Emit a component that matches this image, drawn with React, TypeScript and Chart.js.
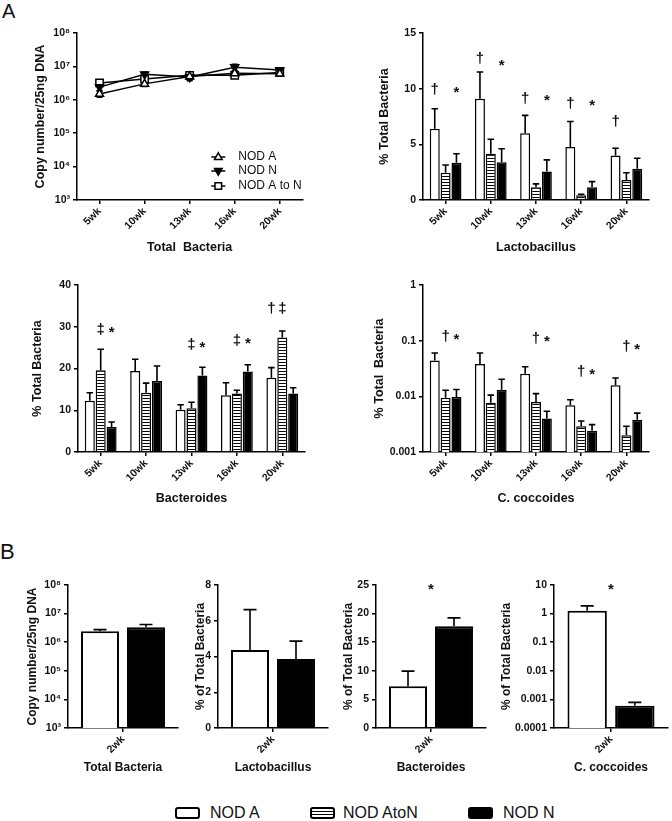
import React, { useEffect, useRef } from 'react';
import { Chart, registerables } from 'chart.js';

Chart.register(...registerables);

const FONT = "'Liberation Sans', Arial, Helvetica, sans-serif";

// ---------------- data ----------------
const weeks = ['5wk', '10wk', '13wk', '16wk', '20wk'];
const weekB = ['2wk'];

const totalTicks = [1e3, 1e4, 1e5, 1e6, 1e7, 1e8];
const totalTickLabels = ['10³', '10⁴', '10⁵', '10⁶', '10⁷', '10⁸'];
const cocTicksA = [0.001, 0.01, 0.1, 1];
const cocTickLabelsA = ['0.001', '0.01', '0.1', '1'];
const cocTicksB = [0.0001, 0.001, 0.01, 0.1, 1, 10];
const cocTickLabelsB = ['0.0001', '0.001', '0.01', '0.1', '1', '10'];

// A - total bacteria (copy number / 25ng DNA)
const totalNodA = [1.5e6, 3.0e6, 5.0e6, 6.2e6, 6.0e6];
const totalNodAErr = [0.3e6, 0.5e6, 1.3e6, 1.0e6, 0.6e6];
const totalNodN = [2.4e6, 5.8e6, 4.8e6, 9.5e6, 7.8e6];
const totalNodNErr = [0.5e6, 1.0e6, 0.8e6, 2.0e6, 1.0e6];
const totalAtoN = [3.2e6, 4.2e6, 5.4e6, 5.4e6, 6.6e6];
const totalAtoNErr = [0.6e6, 0.8e6, 0.8e6, 1.0e6, 0.8e6];

// A - Lactobacillus (% total bacteria)
const lactoNodA = [6.4, 9.1, 6.0, 4.75, 4.0];
const lactoNodAErr = [1.8, 2.4, 1.6, 2.3, 0.65];
const lactoAtoN = [2.45, 4.15, 1.15, 0.42, 1.8];
const lactoAtoNErr = [0.7, 1.3, 0.3, 0.1, 0.65];
const lactoNodN = [3.35, 3.4, 2.55, 1.15, 2.8];
const lactoNodNErr = [0.8, 1.2, 1.05, 0.5, 0.95];

// A - Bacteroides
const bactNodA = [12.3, 19.4, 10.1, 13.6, 17.8];
const bactNodAErr = [1.9, 2.8, 1.2, 3.0, 2.4];
const bactAtoN = [19.6, 14.2, 10.5, 14.0, 27.4];
const bactAtoNErr = [5.0, 2.3, 1.4, 0.8, 1.6];
const bactNodN = [6.0, 17.0, 18.3, 19.3, 14.0];
const bactNodNErr = [1.2, 3.6, 2.0, 1.6, 1.4];

// A - C. coccoides
const cocNodA = [0.044, 0.038, 0.0255, 0.0069, 0.0158];
const cocNodAErr = [0.016, 0.022, 0.0085, 0.0018, 0.0056];
const cocAtoN = [0.0094, 0.0077, 0.0079, 0.0029, 0.002];
const cocAtoNErr = [0.0035, 0.0028, 0.0033, 0.0007, 0.0009];
const cocNodN = [0.0097, 0.0131, 0.004, 0.0024, 0.0038];
const cocNodNErr = [0.0036, 0.0072, 0.0014, 0.0007, 0.0012];

// B - 2wk
const bTotalNodA = [2.4e6];
const bTotalNodAErr = [0.35e6];
const bTotalNodN = [3.3e6];
const bTotalNodNErr = [0.85e6];
const bLactoNodA = [4.37];
const bLactoNodAErr = [2.25];
const bLactoNodN = [3.86];
const bLactoNodNErr = [1.0];
const bBactNodA = [7.3];
const bBactNodAErr = [2.65];
const bBactNodN = [17.8];
const bBactNodNErr = [1.45];
const bCocNodA = [1.27];
const bCocNodAErr = [0.6];
const bCocNodN = [0.0006];
const bCocNodNErr = [0.00019];

// significance marks: category, bar index (0 NOD A, 1 AtoN, 2 NOD N), value, symbol
const lactoMarks = [
  { cat: 0, bar: 0, value: 9.9, text: '†' }, { cat: 0, bar: 2, value: 9.9, text: '*' },
  { cat: 1, bar: 0, value: 12.7, text: '†' }, { cat: 1, bar: 2, value: 12.3, text: '*' },
  { cat: 2, bar: 0, value: 9.1, text: '†' }, { cat: 2, bar: 2, value: 9.2, text: '*' },
  { cat: 3, bar: 0, value: 8.6, text: '†' }, { cat: 3, bar: 2, value: 8.7, text: '*' },
  { cat: 4, bar: 0, value: 7.0, text: '†' },
];
const bactMarks = [
  { cat: 0, bar: 1, value: 29.2, text: '‡' }, { cat: 0, bar: 2, value: 29.2, text: '*' },
  { cat: 2, bar: 1, value: 25.6, text: '‡' }, { cat: 2, bar: 2, value: 25.6, text: '*' },
  { cat: 3, bar: 1, value: 26.6, text: '‡' }, { cat: 3, bar: 2, value: 26.6, text: '*' },
  { cat: 4, bar: 0, value: 34.2, text: '†' }, { cat: 4, bar: 1, value: 34.2, text: '‡' },
];
const cocMarks = [
  { cat: 0, bar: 1, value: 0.117, text: '†' }, { cat: 0, bar: 2, value: 0.117, text: '*' },
  { cat: 2, bar: 1, value: 0.11, text: '†' }, { cat: 2, bar: 2, value: 0.11, text: '*' },
  { cat: 3, bar: 1, value: 0.0275, text: '†' }, { cat: 3, bar: 2, value: 0.0275, text: '*' },
  { cat: 4, bar: 1, value: 0.078, text: '†' }, { cat: 4, bar: 2, value: 0.078, text: '*' },
];
const bBactMarks = [{ cat: 0, bar: 0.5, value: 24.6, text: '*' }];
const bCocMarks = [{ cat: 0, bar: 0.5, value: 8.5, text: '*' }];

// ---------------- layout ----------------
type Box = { axisL: number; axisR: number; top: number; bottom: number; yTitleX: number; xTitleY: number; titleSize: number };
type Lay = { left: number; top: number; width: number; height: number; yW: number; xH: number; padTop: number; padRight: number };

function layoutFor(b: Box): Lay {
  const lh = b.titleSize * 1.2;
  const left = Math.round(b.yTitleX - lh / 2);
  const padTop = 12;
  const padRight = 4;
  const top = b.top - padTop;
  const width = b.axisR + padRight - left;
  const height = Math.round(b.xTitleY + lh / 2) - top;
  return { left, top, width, height, yW: b.axisL - left, xH: top + height - b.bottom, padTop, padRight };
}

const boxA1: Box = { axisL: 77, axisR: 305, top: 33, bottom: 200, yTitleX: 40, xTitleY: 247, titleSize: 12.5 };
const boxA2: Box = { axisL: 423, axisR: 649, top: 33, bottom: 200, yTitleX: 384, xTitleY: 247, titleSize: 12.5 };
const boxA3: Box = { axisL: 78, axisR: 305, top: 285, bottom: 452, yTitleX: 37, xTitleY: 498, titleSize: 12.5 };
const boxA4: Box = { axisL: 423, axisR: 649, top: 285, bottom: 452, yTitleX: 379, xTitleY: 498, titleSize: 12.5 };
const boxB1: Box = { axisL: 68, axisR: 178, top: 585, bottom: 728, yTitleX: 32, xTitleY: 768, titleSize: 12 };
const boxB2: Box = { axisL: 218, axisR: 328, top: 585, bottom: 728, yTitleX: 200, xTitleY: 768, titleSize: 12 };
const boxB3: Box = { axisL: 376, axisR: 486, top: 585, bottom: 728, yTitleX: 348, xTitleY: 768, titleSize: 12 };
const boxB4: Box = { axisL: 554, axisR: 668, top: 585, bottom: 728, yTitleX: 506, xTitleY: 768, titleSize: 12 };

// ---------------- helpers ----------------
const INK = '#111';
const tickFont = () => ({ family: FONT, size: 10.5, weight: 'bold' as const });
const axisGrid = () => ({ display: true, drawOnChartArea: false, drawTicks: true, tickLength: 4, color: '#000', lineWidth: 1.5, offset: false });
const axisBorder = () => ({ display: true, color: '#000', width: 1.5 });

function xScale(lay: Lay, title: string, size: number) {
  return {
    type: 'category',
    offset: true,
    afterFit: (s: any) => { s.height = lay.xH; },
    grid: axisGrid(),
    border: axisBorder(),
    ticks: { color: INK, font: tickFont(), minRotation: 45, maxRotation: 45, autoSkip: false, padding: 1 },
    title: { display: true, text: title, color: INK, font: { family: FONT, size, weight: 'bold' }, padding: 0 },
  };
}

function yLinear(lay: Lay, title: string, size: number, max: number, step: number) {
  return {
    type: 'linear',
    position: 'left',
    min: 0,
    max,
    afterFit: (s: any) => { s.width = lay.yW; },
    grid: axisGrid(),
    border: axisBorder(),
    ticks: { color: INK, font: tickFont(), padding: 3, stepSize: step },
    title: { display: true, text: title, color: INK, font: { family: FONT, size, weight: 'bold' }, padding: 0 },
  };
}

function yLog(lay: Lay, title: string, size: number, ticks: number[], labels: string[]) {
  return {
    type: 'logarithmic',
    position: 'left',
    min: ticks[0],
    max: ticks[ticks.length - 1],
    afterFit: (s: any) => { s.width = lay.yW; },
    afterBuildTicks: (s: any) => { s.ticks = ticks.map((v) => ({ value: v })); },
    grid: axisGrid(),
    border: axisBorder(),
    ticks: {
      color: INK, font: tickFont(), padding: 3,
      callback: (v: any) => { const i = ticks.indexOf(Number(v)); return i >= 0 ? labels[i] : ''; },
    },
    title: { display: true, text: title, color: INK, font: { family: FONT, size, weight: 'bold' }, padding: 0 },
  };
}

function errorBars(cap: number, both: boolean) {
  return {
    id: 'errorBars',
    beforeDatasetsDraw(chart: any) {
      const ctx = chart.ctx;
      const ys = chart.scales.y;
      chart.data.datasets.forEach((ds: any, i: number) => {
        if (!ds.errors) return;
        const meta = chart.getDatasetMeta(i);
        meta.data.forEach((el: any, j: number) => {
          const v = ds.data[j];
          const e = ds.errors[j];
          if (v == null || e == null) return;
          const x = el.x;
          const yTop = ys.getPixelForValue(v + e);
          const yBot = both ? ys.getPixelForValue(v - e) : ys.getPixelForValue(v);
          ctx.save();
          ctx.strokeStyle = '#000';
          ctx.lineWidth = 1.6;
          ctx.beginPath();
          ctx.moveTo(x, yBot);
          ctx.lineTo(x, yTop);
          ctx.moveTo(x - cap / 2, yTop);
          ctx.lineTo(x + cap / 2, yTop);
          if (both) { ctx.moveTo(x - cap / 2, yBot); ctx.lineTo(x + cap / 2, yBot); }
          ctx.stroke();
          ctx.restore();
        });
      });
    },
  };
}

type Mark = { cat: number; bar: number; value: number; text: string };
function marksPlugin(marks: Mark[], size: number) {
  return {
    id: 'marks',
    afterDatasetsDraw(chart: any) {
      const ctx = chart.ctx;
      const ys = chart.scales.y;
      ctx.save();
      ctx.fillStyle = INK;
      ctx.font = `bold ${size}px ${FONT}`;
      ctx.textAlign = 'center';
      ctx.textBaseline = 'middle';
      marks.forEach((m) => {
        const lo = Math.floor(m.bar);
        const hi = Math.ceil(m.bar);
        const x0 = chart.getDatasetMeta(lo).data[m.cat].x;
        const x1 = chart.getDatasetMeta(hi).data[m.cat].x;
        const x = x0 + (x1 - x0) * (m.bar - lo);
        const dy = m.text === '*' ? 3 : 0;
        ctx.fillText(m.text, x, ys.getPixelForValue(m.value) + dy);
      });
      ctx.restore();
    },
  };
}

function drawMarker(ctx: CanvasRenderingContext2D, style: string, down: boolean, fill: string, x: number, y: number) {
  ctx.beginPath();
  if (style === 'rect') {
    ctx.rect(x - 3.3, y - 3.3, 6.6, 6.6);
  } else {
    const s = down ? -1 : 1;
    ctx.moveTo(x, y - 4.2 * s);
    ctx.lineTo(x + 3.8, y + 2.4 * s);
    ctx.lineTo(x - 3.8, y + 2.4 * s);
    ctx.closePath();
  }
  ctx.fillStyle = fill;
  ctx.fill();
  ctx.stroke();
}

const lineLegend = {
  id: 'lineLegend',
  afterDraw(chart: any) {
    const { ctx, chartArea: a } = chart;
    const mx = a.right - 84;
    const tx = a.right - 64;
    const rows = [a.bottom - 43, a.bottom - 29, a.bottom - 14];
    ctx.save();
    ctx.strokeStyle = '#000';
    ctx.lineWidth = 1.5;
    ctx.font = `12px ${FONT}`;
    ctx.textBaseline = 'middle';
    chart.data.datasets.forEach((ds: any, i: number) => {
      const y = rows[i];
      ctx.beginPath();
      ctx.moveTo(mx - 7, y);
      ctx.lineTo(mx + 7, y);
      ctx.stroke();
      drawMarker(ctx, ds.pointStyle, ds.pointRotation === 180, ds.pointBackgroundColor, mx, y);
      ctx.fillStyle = INK;
      ctx.fillText(ds.label, tx, y);
    });
    ctx.restore();
  },
};

function stripes(ctx: CanvasRenderingContext2D) {
  const c = document.createElement('canvas');
  c.width = 4;
  c.height = 3;
  const g = c.getContext('2d')!;
  g.fillStyle = '#fff';
  g.fillRect(0, 0, 4, 3);
  g.fillStyle = '#000';
  g.fillRect(0, 2, 4, 1);
  return ctx.createPattern(c, 'repeat');
}

function baseOptions(lay: Lay, x: any, y: any, cat: number, bar: number) {
  return {
    responsive: false,
    animation: false,
    devicePixelRatio: 1,
    events: [],
    layout: { padding: { top: lay.padTop, right: lay.padRight, left: 0, bottom: 0 } },
    datasets: { bar: { categoryPercentage: cat, barPercentage: bar } },
    plugins: { legend: { display: false }, tooltip: { enabled: false } },
    scales: { x, y },
  };
}

function barSet(label: string, data: number[], errors: number[], fill: any, bw: number) {
  return { label, data, errors, backgroundColor: fill, borderColor: '#000', borderWidth: bw };
}

// ---------------- chart configs ----------------
function cfgA1(lay: Lay) {
  const common = { borderColor: '#000', borderWidth: 1.5, pointBorderColor: '#000', pointBorderWidth: 1.5, fill: false, tension: 0 };
  return {
    type: 'line',
    data: {
      labels: weeks,
      datasets: [
        { ...common, label: 'NOD A', data: totalNodA, errors: totalNodAErr, pointStyle: 'triangle', pointRadius: 4.6, pointBackgroundColor: '#fff' },
        { ...common, label: 'NOD N', data: totalNodN, errors: totalNodNErr, pointStyle: 'triangle', pointRotation: 180, pointRadius: 4.6, pointBackgroundColor: '#000' },
        { ...common, label: 'NOD A to N', data: totalAtoN, errors: totalAtoNErr, pointStyle: 'rect', pointRadius: 5.2, pointBackgroundColor: '#fff' },
      ],
    },
    options: baseOptions(lay, xScale(lay, 'Total  Bacteria', 12.5), yLog(lay, 'Copy number/25ng DNA', 12.5, totalTicks, totalTickLabels), 0.8, 0.9),
    plugins: [errorBars(6, true), lineLegend],
  };
}

function cfgWeekBars(lay: Lay, ctx: CanvasRenderingContext2D, a: number[], ae: number[], s: number[], se: number[], n: number[], ne: number[], xTitle: string, y: any, marks: Mark[]) {
  return {
    type: 'bar',
    data: {
      labels: weeks,
      datasets: [
        barSet('NOD A', a, ae, '#fff', 1.5),
        barSet('NOD AtoN', s, se, stripes(ctx), 1.5),
        barSet('NOD N', n, ne, '#000', 1.5),
      ],
    },
    options: baseOptions(lay, xScale(lay, xTitle, 12.5), y, 0.72, 0.92),
    plugins: [errorBars(6.5, false), marksPlugin(marks, 15)],
  };
}

function cfgB(lay: Lay, a: number[], ae: number[], n: number[], ne: number[], xTitle: string, y: any, marks: Mark[]) {
  return {
    type: 'bar',
    data: {
      labels: weekB,
      datasets: [barSet('NOD A', a, ae, '#fff', 2), barSet('NOD N', n, ne, '#000', 2)],
    },
    options: baseOptions(lay, xScale(lay, xTitle, 12), y, 0.836, 0.826),
    plugins: [errorBars(13, false), marksPlugin(marks, 15)],
  };
}

// ---------------- components ----------------
function Panel({ box, make }: { box: Box; make: (lay: Lay, ctx: CanvasRenderingContext2D) => any }) {
  const ref = useRef<HTMLCanvasElement>(null);
  const lay = layoutFor(box);
  useEffect(() => {
    const canvas = ref.current!;
    const chart = new Chart(canvas, make(lay, canvas.getContext('2d')!));
    return () => chart.destroy();
  }, []);
  return (
    <canvas
      ref={ref}
      width={lay.width}
      height={lay.height}
      style={{ position: 'absolute', left: lay.left, top: lay.top, width: lay.width, height: lay.height }}
    />
  );
}

const legendItems = [
  { label: 'NOD A', box: 175, text: 210, bg: '#fff' },
  { label: 'NOD AtoN', box: 310, text: 343, bg: 'linear-gradient(#fff 0 2px, #000 2px 3.5px, #fff 3.5px 5px, #000 5px 6.5px, #fff 6.5px)' },
  { label: 'NOD N', box: 468, text: 503, bg: '#000' },
];

export default function App() {
  return (
    <div style={{ position: 'absolute', left: 0, top: 0, width: 672, height: 821, background: '#fff', overflow: 'hidden', fontFamily: FONT, color: INK }}>
      <div style={{ position: 'absolute', left: 2, top: 1, fontSize: 20, lineHeight: '20px' }}>A</div>
      <div style={{ position: 'absolute', left: 0, top: 541, fontSize: 22, lineHeight: '22px' }}>B</div>

      <Panel box={boxA1} make={(lay) => cfgA1(lay)} />
      <Panel box={boxA2} make={(lay, ctx) => cfgWeekBars(lay, ctx, lactoNodA, lactoNodAErr, lactoAtoN, lactoAtoNErr, lactoNodN, lactoNodNErr, 'Lactobacillus', yLinear(lay, '% Total Bacteria', 12.5, 15, 5), lactoMarks)} />
      <Panel box={boxA3} make={(lay, ctx) => cfgWeekBars(lay, ctx, bactNodA, bactNodAErr, bactAtoN, bactAtoNErr, bactNodN, bactNodNErr, 'Bacteroides', yLinear(lay, '% Total Bacteria', 12.5, 40, 10), bactMarks)} />
      <Panel box={boxA4} make={(lay, ctx) => cfgWeekBars(lay, ctx, cocNodA, cocNodAErr, cocAtoN, cocAtoNErr, cocNodN, cocNodNErr, 'C. coccoides', yLog(lay, '% Total  Bacteria', 12.5, cocTicksA, cocTickLabelsA), cocMarks)} />

      <Panel box={boxB1} make={(lay) => cfgB(lay, bTotalNodA, bTotalNodAErr, bTotalNodN, bTotalNodNErr, 'Total Bacteria', yLog(lay, 'Copy number/25ng DNA', 12, totalTicks, totalTickLabels), [])} />
      <Panel box={boxB2} make={(lay) => cfgB(lay, bLactoNodA, bLactoNodAErr, bLactoNodN, bLactoNodNErr, 'Lactobacillus', yLinear(lay, '% of Total Bacteria', 12, 8, 2), [])} />
      <Panel box={boxB3} make={(lay) => cfgB(lay, bBactNodA, bBactNodAErr, bBactNodN, bBactNodNErr, 'Bacteroides', yLinear(lay, '% of Total Bacteria', 12, 25, 5), bBactMarks)} />
      <Panel box={boxB4} make={(lay) => cfgB(lay, bCocNodA, bCocNodAErr, bCocNodN, bCocNodNErr, 'C. coccoides', yLog(lay, '% of Total Bacteria', 12, cocTicksB, cocTickLabelsB), bCocMarks)} />

      {legendItems.map((it) => (
        <React.Fragment key={it.label}>
          <div style={{ position: 'absolute', left: it.box, top: 807, width: 25, height: 12, boxSizing: 'border-box', border: '2px solid #000', borderRadius: 3, background: it.bg }} />
          <div style={{ position: 'absolute', left: it.text, top: 805, fontSize: 16, lineHeight: '16px', whiteSpace: 'nowrap' }}>{it.label}</div>
        </React.Fragment>
      ))}
    </div>
  );
}
